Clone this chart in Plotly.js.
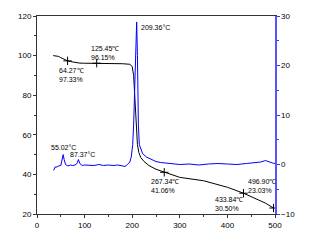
<!DOCTYPE html>
<html><head><meta charset="utf-8">
<script src="https://cdn.plot.ly/plotly-3.0.1.min.js"></script>
<style>html,body{margin:0;padding:0;background:#fff}#c{width:318px;height:241px}</style>
</head><body><div id="c"></div>
<script>
// TG curve (left axis, %)
const tgTemp = [34,40,45,50,55,60,64.27,70,80,90,100,125.45,150,180,195,200,203,205,207,209,211,214,218,225,235,250,267.34,300,350,400,433.84,460,480,496.9];
const tgMass = [100,99.9,99.6,99.0,98.3,97.7,97.33,97.0,96.5,96.2,96.15,96.15,96.0,95.9,95.6,94.5,90,82,72,62,55,51,48.5,46.5,44.5,42.6,41.06,38.5,36.8,33.5,30.5,27.8,25.5,23.03];
// DTG curve (right axis)
const dtgTemp = [35,38,42,45,50,53,55,57,60,65,70,75,80,84,87,90,95,100,110,120,130,140,150,160,170,180,185,190,195,198,201,203,205,207,209.36,211,212,213,215,218,222,230,240,250,260,280,300,320,340,360,380,400,420,440,460,470,480,485,490,495,500];
const dtgVal  = [-1.2,-0.5,-0.5,-0.3,-0.2,0.8,2.0,1.0,0,-0.3,-0.1,-0.2,-0.1,0.2,1.0,0.2,-0.2,-0.1,-0.1,-0.2,0,-0.2,-0.1,-0.2,-0.1,-0.2,-0.4,0,0.5,1.5,4,8,14,22,28.8,22,14,8,4,3,2.2,1.5,1.0,0.6,0.4,0.2,0,0.1,-0.1,0.1,0.2,0.1,0,0.2,0.3,0.5,0.8,0.6,0.4,0.3,0.2];
// marked points on TG
const markT = [64.27,125.45,267.34,433.84,496.9];
const markM = [97.33,96.15,41.06,30.50,23.03];
const markLabels = ["64.27℃<br>97.33%","125.45℃<br>96.15%","267.34℃<br>41.06%","433.84℃<br>30.50%","496.90℃<br>23.03%"];
const peakT = [55.02,87.37,209.36];
const peakY = [2.0,1.0,28.8];
const peakLabels = ["55.02°C","87.37°C","209.36°C"];

const traces = [
  {x: tgTemp, y: tgMass, type:'scatter', mode:'lines', line:{color:'#000', width:1}, yaxis:'y'},
  {x: markT, y: markM, type:'scatter', mode:'markers', marker:{symbol:'cross-thin', size:6, line:{color:'#000', width:1}}, yaxis:'y'},
  {x: dtgTemp, y: dtgVal, type:'scatter', mode:'lines', line:{color:'#0000ff', width:1}, yaxis:'y2'}
];
const f = {family:'Liberation Sans, Arial, sans-serif', size:7, color:'#000'};
const off = [[4,14],[8,-10],[1,14],[-15,11],[-12,-22]];
const ann = markT.map((t,i)=>({x:t, y:markM[i], xref:'x', yref:'y', text:markLabels[i], showarrow:true, arrowcolor:'rgba(0,0,0,0)', ax:off[i][0], ay:off[i][1], font:f, align:'left', xanchor:'center', yanchor:'middle'}));
const pa = [[0,-7],[4,-5],[19,6]];
peakT.forEach((t,i)=>ann.push({x:t, y:peakY[i], xref:'x', yref:'y2', text:peakLabels[i], showarrow:true, arrowcolor:'rgba(0,0,0,0)', ax:pa[i][0], ay:pa[i][1], font:f, xanchor:'center', yanchor:'middle'}));

const layout = {
  width:318, height:241, showlegend:false,
  margin:{l:37, r:43, t:16, b:27, pad:0},
  paper_bgcolor:'#fff', plot_bgcolor:'#fff',
  font:{family:'Liberation Sans, Arial, sans-serif', size:8, color:'#000'},
  xaxis:{range:[0,500], dtick:100, tick0:0, showgrid:false, zeroline:false, showline:true, linecolor:'#333', linewidth:1, mirror:true, ticks:'outside', ticklen:3, tickcolor:'#333', minor:{dtick:50, ticks:'outside', ticklen:2, tickcolor:'#333'}, tickfont:{size:8}},
  yaxis:{range:[20,120], dtick:20, showgrid:false, zeroline:false, showline:true, linecolor:'#333', linewidth:1, ticks:'outside', ticklen:3, tickcolor:'#333', minor:{dtick:10, ticks:'outside', ticklen:2, tickcolor:'#333'}, tickfont:{size:8}},
  yaxis2:{range:[-10,30], dtick:10, overlaying:'y', side:'right', showgrid:false, zeroline:false, showline:true, linecolor:'#5555ff', linewidth:1.5, ticks:'outside', ticklen:3, tickcolor:'#3333ff', minor:{dtick:5, ticks:'outside', ticklen:2, tickcolor:'#3333ff'}, tickfont:{size:8, color:'#000'}},
  annotations: ann
};
Plotly.newPlot('c', traces, layout, {staticPlot:true, displayModeBar:false});
</script></body></html>
